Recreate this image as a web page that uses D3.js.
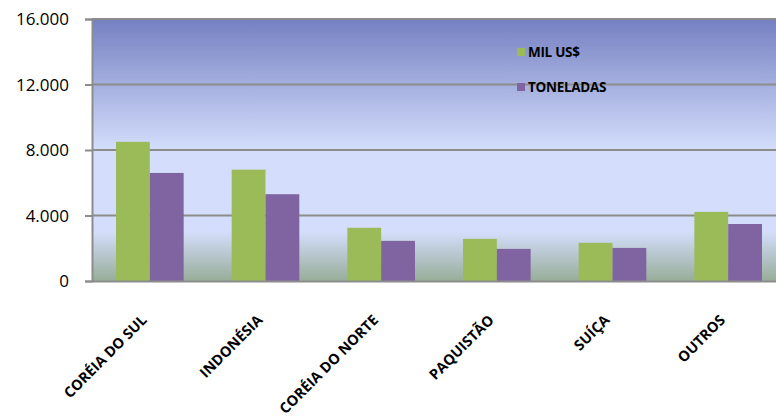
<!DOCTYPE html>
<html>
<head>
<meta charset="utf-8">
<script src="https://cdn.jsdelivr.net/npm/d3@7"></script>
<style>
  body { margin: 0; background: #fff; overflow: hidden; }
  svg { display: block; }
</style>
</head>
<body>
<div id="container"></div>
<script>
/* DATA */
const countries = ["CORÉIA DO SUL", "INDONÉSIA", "CORÉIA DO NORTE", "PAQUISTÃO", "SUÍÇA", "OUTROS"];
const milUS = [8500, 6800, 3250, 2570, 2330, 4220];
const toneladas = [6600, 5300, 2450, 1960, 2020, 3480];
const seriesNames = ["MIL US$", "TONELADAS"];
const yTicks = [0, 4000, 8000, 12000, 16000];

/* CONSTANTS */
const width = 776,
      height = 416,
      plotLeft = 92,
      plotRight = 786,
      plotTop = 19,
      plotBottom = 281;

const colors = ["#9bbb59", "#8064a2"];

const svg = d3.select("#container")
  .append("svg")
  .attr("width", width)
  .attr("height", height);

// plot background gradient
const defs = svg.append("defs");
const grad = defs.append("linearGradient")
  .attr("id", "bg")
  .attr("x1", 0).attr("y1", 0).attr("x2", 0).attr("y2", 1);
[[0, "#7580c2"], [0.5, "#d4defc"], [0.81, "#d4defc"], [1, "#98ad99"]]
  .forEach(([o, c]) => grad.append("stop").attr("offset", o).attr("stop-color", c));

// SCALES
const xScale = d3.scaleBand()
  .domain(countries)
  .range([plotLeft, plotRight])
  .paddingInner(0)
  .paddingOuter(0);

const yScale = d3.scaleLinear()
  .domain([0, 16000])
  .range([plotBottom, plotTop]);

const innerBand = d3.scaleBand()
  .domain(seriesNames)
  .range([0, xScale.bandwidth()])
  .paddingInner(0)
  .paddingOuter(0.71);

svg.append("rect")
  .attr("x", plotLeft)
  .attr("y", plotTop)
  .attr("width", plotRight - plotLeft)
  .attr("height", plotBottom - plotTop)
  .attr("fill", "url(#bg)");

// gridlines
svg.append("g")
  .selectAll("line")
  .data(yTicks.filter(d => d > 0))
  .join("line")
  .attr("x1", plotLeft)
  .attr("x2", plotRight)
  .attr("y1", d => yScale(d))
  .attr("y2", d => yScale(d))
  .attr("stroke", "#8c8c8c")
  .attr("stroke-width", 2);

// bars
const rows = countries.map((c, i) => ({ country: c, values: [milUS[i], toneladas[i]] }));

svg.append("g")
  .selectAll("g")
  .data(rows)
  .join("g")
  .attr("transform", d => `translate(${xScale(d.country)},0)`)
  .selectAll("rect")
  .data(d => d.values.map((v, i) => ({ key: seriesNames[i], value: v, i })))
  .join("rect")
  .attr("x", d => innerBand(d.key))
  .attr("width", innerBand.bandwidth())
  .attr("y", d => yScale(d.value))
  .attr("height", d => yScale(0) - yScale(d.value))
  .attr("fill", d => colors[d.i]);

// AXES
const yAxis = d3.axisLeft(yScale)
  .tickValues(yTicks)
  .tickSize(7)
  .tickFormat(d => d3.format(",")(d).replace(/,/g, "."));

const gy = svg.append("g")
  .attr("transform", `translate(${plotLeft},0)`)
  .call(yAxis);
gy.select(".domain").attr("stroke", "#8c8c8c").attr("stroke-width", 2);
gy.selectAll(".tick line").attr("stroke", "#8c8c8c").attr("stroke-width", 2);
gy.selectAll(".tick text")
  .attr("x", -23)
  .attr("dy", "0.35em")
  .attr("fill", "#000")
  .style("font-family", "'Open Sans', sans-serif")
  .style("font-size", "17px");

const xAxis = d3.axisBottom(xScale).tickSize(0);
const gx = svg.append("g")
  .attr("transform", `translate(0,${plotBottom})`)
  .call(xAxis);
gx.select(".domain").attr("stroke", "#8c8c8c").attr("stroke-width", 2);
gx.selectAll(".tick text")
  .attr("fill", "#000")
  .attr("text-anchor", "end")
  .attr("dy", 0)
  .attr("y", 0)
  .attr("transform", "translate(-2,40) rotate(-45)")
  .style("font-family", "'Open Sans', sans-serif")
  .style("font-weight", "bold")
  .style("font-size", "14.5px");

// LEGEND
const legend = svg.append("g")
  .selectAll("g")
  .data(seriesNames)
  .join("g")
  .attr("transform", (d, i) => `translate(517,${52 + i * 35})`);

legend.append("rect")
  .attr("x", 0)
  .attr("y", -4)
  .attr("width", 8)
  .attr("height", 8)
  .attr("fill", (d, i) => colors[i]);

legend.append("text")
  .attr("x", 11)
  .attr("y", 0)
  .attr("dy", "0.35em")
  .text(d => d)
  .style("font-family", "'Open Sans', sans-serif")
  .style("font-weight", "bold")
  .style("font-size", "13.5px")
  .style("letter-spacing", "-0.3px");
</script>
</body>
</html>
